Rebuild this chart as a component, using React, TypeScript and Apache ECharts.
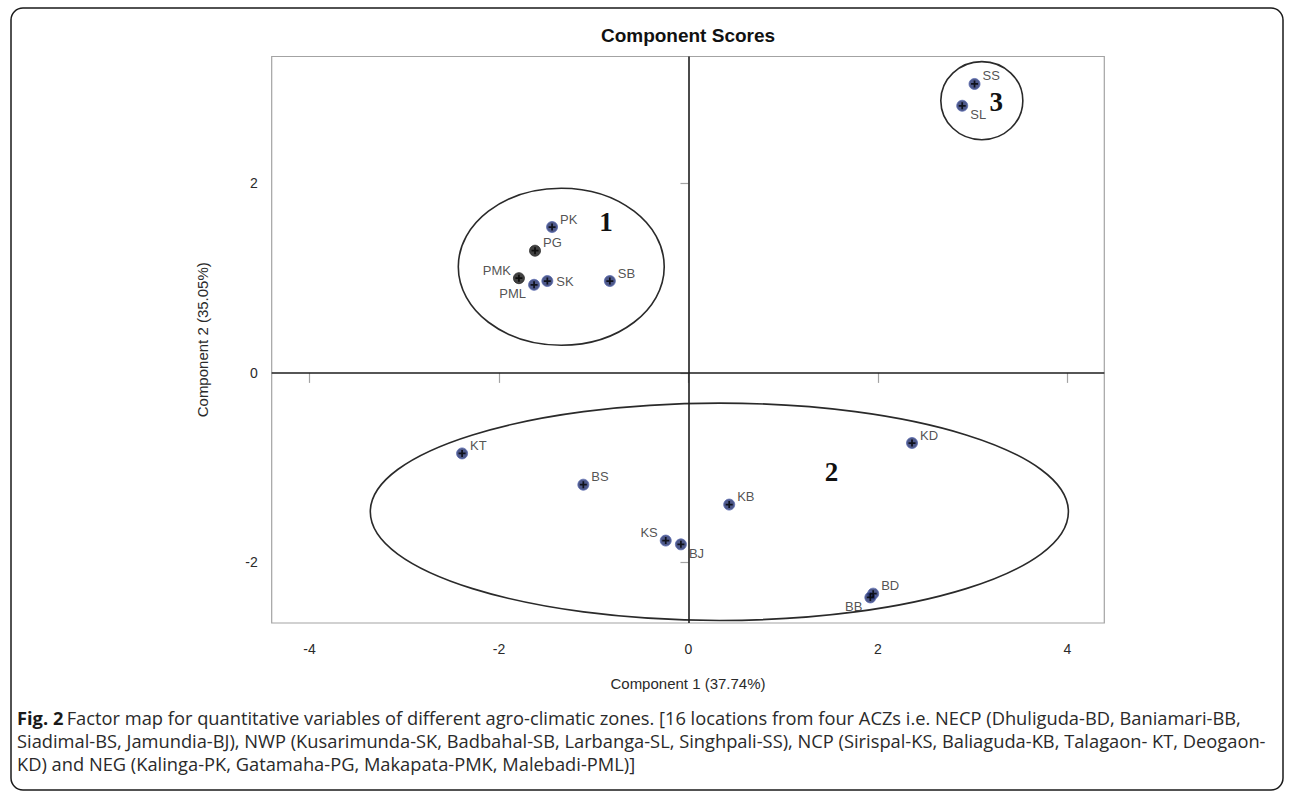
import React, { useEffect, useRef } from "react";
import * as echarts from "echarts";

// ---- Data ----
const POINT_NAMES = ["PK", "PG", "PMK", "PML", "SK", "SB", "SS", "SL", "KT", "BS", "KB", "KS", "BJ", "BD", "BB", "KD"];
const COMPONENT_1 = [-1.44, -1.62, -1.79, -1.63, -1.49, -0.83, 3.02, 2.89, -2.39, -1.11, 0.43, -0.24, -0.08, 1.95, 1.92, 2.36];
const COMPONENT_2 = [1.54, 1.29, 1.0, 0.93, 0.97, 0.97, 3.05, 2.82, -0.85, -1.18, -1.39, -1.77, -1.81, -2.33, -2.37, -0.74];

const X_TICKS = [-4, -2, 0, 2, 4];
const Y_TICKS = [-2, 0, 2];

const CLUSTER_LABELS = ["1", "2", "3"];
const CLUSTER_CX = [-1.343, 0.326, 3.097];
const CLUSTER_CY = [1.121, -1.466, 2.874];
const CLUSTER_RX = [1.087, 3.685, 0.433];
const CLUSTER_RY = [0.829, 1.147, 0.412];
const CLUSTER_LABEL_X = [-0.87, 1.51, 3.25];
const CLUSTER_LABEL_Y = [1.59, -1.05, 2.86];

const TITLE = "Component Scores";
const X_NAME = "Component 1 (37.74%)";
const Y_NAME = "Component 2 (35.05%)";
const CAPTION_LINES = [
  "Factor map for quantitative variables of different agro-climatic zones. [16 locations from four ACZs i.e. NECP (Dhuliguda-BD, Baniamari-BB,",
  "Siadimal-BS, Jamundia-BJ), NWP (Kusarimunda-SK, Badbahal-SB, Larbanga-SL, Singhpali-SS), NCP (Sirispal-KS, Baliaguda-KB, Talagaon- KT, Deogaon-",
  "KD) and NEG (Kalinga-PK, Gatamaha-PG, Makapata-PMK, Malebadi-PML)]",
];

// ---- Styles (label placement per point) ----
const LABEL_PLACE: Record<string, string> = {
  PK: "tr", PG: "tr", PMK: "tl", PML: "bl", SK: "r", SB: "tr", SS: "tr", SL: "br",
  KT: "tr", BS: "tr", KB: "tr", KS: "tl", BJ: "br", BD: "tr", BB: "bl", KD: "tr",
};
const DARK_POINTS = ["PG", "PMK"];

const SANS = '"Liberation Sans", Arial, sans-serif';

function labelFor(place: string) {
  switch (place) {
    case "tr": return { position: "right", offset: [-3, -8] };
    case "br": return { position: "right", offset: [-3, 9] };
    case "tl": return { position: "left", offset: [3, -8] };
    case "bl": return { position: "left", offset: [3, 9] };
    default: return { position: "right", offset: [-2, 0] };
  }
}

export default function App() {
  const ref = useRef<HTMLDivElement>(null);

  useEffect(() => {
    document.body.style.margin = "0";
    const chart = echarts.init(ref.current!, null, { renderer: "svg", width: 1292, height: 793 });

    const points = POINT_NAMES.map((n, i) => {
      const lp = labelFor(LABEL_PLACE[n]);
      const dark = DARK_POINTS.includes(n);
      return {
        name: n,
        value: [COMPONENT_1[i], COMPONENT_2[i]],
        itemStyle: { color: dark ? "#121212" : "#22306e", borderColor: dark ? "#2a2a2a" : "#5d6db0", borderWidth: 1 },
        label: { show: true, formatter: n, position: lp.position, offset: lp.offset },
      };
    });

    const plus = POINT_NAMES.map((n, i) => ({ name: n, value: [COMPONENT_1[i], COMPONENT_2[i]] }));

    const clusters = CLUSTER_LABELS.map((l, i) => ({
      name: l,
      value: [CLUSTER_CX[i], CLUSTER_CY[i], CLUSTER_RX[i], CLUSTER_RY[i], CLUSTER_LABEL_X[i], CLUSTER_LABEL_Y[i]],
    }));

    const captionStyle = {
      rich: {
        b: { font: 'bold 18.3px "Open Sans", Lato, sans-serif', fill: "#1a1a1a" },
        n: { font: '18.3px "Open Sans", Lato, sans-serif', fill: "#2a2a2a" },
      },
    };
    const captionTexts = [
      "{b|Fig. 2} {n|" + CAPTION_LINES[0] + "}",
      "{n|" + CAPTION_LINES[1] + "}",
      "{n|" + CAPTION_LINES[2] + "}",
    ];

    chart.setOption({
      animation: false,
      backgroundColor: "#ffffff",
      grid: {
        left: 271.7,
        top: 56.5,
        right: 187.7,
        bottom: 170,
        show: true,
        borderColor: "#a3a3a3",
        borderWidth: 1.2,
        backgroundColor: "transparent",
      },
      xAxis: {
        type: "value",
        min: -4.4,
        max: 4.39,
        name: X_NAME,
        nameLocation: "middle",
        nameGap: 53,
        nameTextStyle: { fontFamily: SANS, fontSize: 15, color: "#2a2a2a" },
        axisLine: { show: false },
        splitLine: { show: false },
        axisTick: { show: true, length: 10, lineStyle: { color: "#a3a3a3", width: 1.2 }, customValues: X_TICKS },
        axisLabel: { fontFamily: SANS, fontSize: 14, color: "#2a2a2a", margin: 19, customValues: X_TICKS },
      },
      yAxis: {
        type: "value",
        min: -2.64,
        max: 3.34,
        name: Y_NAME,
        nameLocation: "middle",
        nameGap: 62,
        nameRotate: 90,
        nameTextStyle: { fontFamily: SANS, fontSize: 15, color: "#2a2a2a" },
        axisLine: { show: false },
        splitLine: { show: false },
        axisTick: { show: true, length: 8, lineStyle: { color: "#a3a3a3", width: 1.2 }, customValues: Y_TICKS },
        axisLabel: { fontFamily: SANS, fontSize: 14, color: "#2a2a2a", margin: 14, customValues: Y_TICKS },
      },
      series: [
        {
          type: "custom",
          name: "clusters",
          silent: true,
          clip: false,
          z: 1,
          renderItem: (params: any, api: any) => {
            const c = api.coord([api.value(0), api.value(1)]);
            const s = api.size([api.value(2), api.value(3)]);
            const l = api.coord([api.value(4), api.value(5)]);
            return {
              type: "group",
              children: [
                {
                  type: "ellipse",
                  shape: { cx: c[0], cy: c[1], rx: s[0], ry: s[1] },
                  style: { fill: "none", stroke: "#2a2a2a", lineWidth: 1.6 },
                },
                {
                  type: "text",
                  x: l[0],
                  y: l[1],
                  style: {
                    text: CLUSTER_LABELS[params.dataIndex],
                    font: 'bold 27px "Liberation Serif", "Times New Roman", serif',
                    fill: "#111",
                    align: "center",
                    verticalAlign: "middle",
                  },
                },
              ],
            };
          },
          data: clusters,
        },
        {
          type: "scatter",
          name: "scores",
          symbol: "circle",
          symbolSize: 11,
          z: 3,
          label: { fontFamily: SANS, fontSize: 13, color: "#262626" },
          data: points,
          markLine: {
            silent: true,
            symbol: "none",
            label: { show: false },
            lineStyle: { color: "#1e1e1e", width: 1.6, type: "solid" },
            data: [{ xAxis: 0 }, { yAxis: 0 }],
          },
        },
        {
          type: "scatter",
          name: "plus",
          symbol: "path://M3,0H5V3H8V5H5V8H3V5H0V3H3Z",
          symbolSize: 7,
          z: 4,
          silent: true,
          itemStyle: { color: "#000" },
          data: plus,
        },
      ],
      graphic: [
        {
          type: "rect",
          shape: { x: 11, y: 8, width: 1272, height: 782, r: 12 },
          style: { fill: "none", stroke: "#1a1a1a", lineWidth: 1.5 },
          silent: true,
        },
        {
          type: "text",
          x: 688,
          y: 35,
          style: {
            text: TITLE,
            font: 'bold 19px "Liberation Sans", Arial, sans-serif',
            fill: "#111",
            align: "center",
            verticalAlign: "middle",
          },
        },
        ...captionTexts.map((t, i) => ({
          type: "text",
          x: 17,
          y: 717 + i * 23,
          style: { text: t, verticalAlign: "middle", ...captionStyle },
        })),
      ],
    });

    return () => chart.dispose();
  }, []);

  return (
    <div
      ref={ref}
      style={{ position: "fixed", left: 0, top: 0, width: 1292, height: 793, background: "#fff" }}
    />
  );
}
